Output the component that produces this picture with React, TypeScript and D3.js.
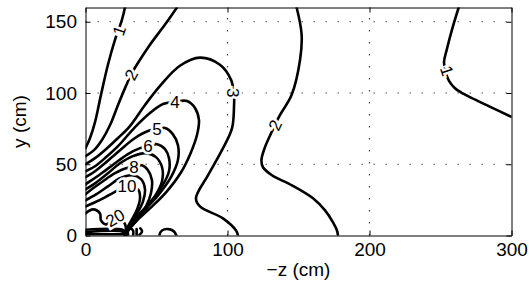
import React, { useEffect, useRef } from "react";
import * as d3 from "d3";

// axis ticks
const xTicks = [0, 100, 200, 300];
const yTicks = [0, 50, 100, 150];

// contour lines, [z, y] in cm
const level1Left = [[27.8, 160], [25.7, 151.5], [20.8, 137.4], [15.8, 119.8], [10.9, 98.7], [6.7, 79.6], [3.2, 68.4], [0, 61.3]];
const level1Right = [[262.8, 160], [258.1, 144.5], [254.4, 130.4], [252.5, 121.9], [253.5, 115], [256, 108.5], [260, 103.5], [266, 99.5], [274, 95.5], [285, 90.3], [300, 83.2]];
const level2Left = [[64.4, 160], [56, 148], [45.4, 133.9], [37, 121.2], [32, 112.8], [28.5, 105], [22.9, 91.6], [17.3, 77.5], [11.6, 67], [6, 59.9], [0, 55.7]];
const level2Mid = [[148.7, 160], [152.2, 141], [151.1, 123.3], [145.2, 98.7], [137, 84.6], [133.4, 77.5], [131.1, 72.6], [126.4, 62], [123.9, 52.9], [125, 47.9], [131.3, 42.3], [145.4, 35.2], [160.2, 26.1], [168.7, 17.6], [174.3, 9.2], [177.1, 3.5], [177.8, 0]];
const level3 = [[0, 50], [6.7, 54.3], [14.4, 60.6], [22.9, 68.4], [31.3, 76.8], [41.9, 91.6], [52.5, 105], [66.5, 119.1], [80.6, 124.8], [94.7, 119.8], [102.5, 109.2], [104.6, 98.7], [104.6, 90.9], [103.2, 75.4], [96.1, 59.9], [86.3, 42.3], [77.8, 26.1], [80.6, 20.4], [96.8, 12], [106, 3.5], [107.4, 0]];
const level4 = [[0, 45.1], [6.7, 48.6], [13.7, 54.3], [22.9, 62.7], [34.9, 76.1], [45.4, 86], [54.6, 92.3], [63, 93.7], [71.5, 94.4], [77.1, 89.5], [79.9, 81], [78.5, 70.5], [74.3, 58.5], [67.3, 44.4], [56.7, 30.3], [45.4, 19], [35.6, 9.9], [29.9, 3.5], [27.8, 0]];
const level5 = [[0, 40.9], [6.7, 45.1], [13.7, 50.7], [24.3, 59.9], [34.9, 68.4], [44, 73.3], [50.4, 74.7], [56, 75.4], [61.6, 71], [65.1, 63.4], [65.1, 52.9], [60.2, 40.9], [51.1, 28.2], [41.2, 17.6], [32.7, 8.5], [28.5, 2.8], [27.8, 0]];
const level6 = [[0, 35.9], [5.3, 39.5], [12.3, 44.4], [20.8, 50.7], [29.9, 57.1], [38.4, 61.3], [44, 62.7], [50.4, 64.1], [56, 60.6], [58.8, 54.3], [58.8, 45.1], [53.9, 34.5], [45.4, 23.3], [37, 14.1], [30.6, 5.6], [27.8, 0]];
const level7 = [[0, 32.4], [6.7, 36.6], [15.8, 43.7], [24.3, 50.7], [33.4, 55.7], [42.6, 57.8], [49.6, 55], [53.9, 47.9], [53.9, 38.1], [48.9, 27.5], [41.9, 17.6], [34.2, 8.5], [29.2, 2.8], [27.8, 0]];
const level8 = [[0, 28.9], [5.3, 33.1], [12.3, 38.1], [20.8, 43.7], [28.5, 47.2], [34.2, 47.9], [39.8, 49.3], [44, 45.8], [46.8, 38.8], [46.1, 29.6], [42.6, 20.4], [36.3, 11.3], [30.6, 4.2], [27.8, 0]];
const level9 = [[0, 24.7], [7.4, 28.9], [15.8, 34.5], [24.3, 40.2], [32.7, 42.3], [39.1, 39.5], [41.9, 32.4], [40.5, 24], [36.3, 15.5], [31.3, 7.8], [28.5, 2.1], [27.8, 0]];
const level10 = [[0, 20.4], [6.7, 23.3], [13.7, 26.8], [20.1, 30.3], [29.2, 34.5], [37, 32.4], [38.4, 26.1], [36.3, 18.3], [32.7, 11.3], [29.2, 4.9], [27.8, 0]];
const level20 = [[0, 15.5], [5.3, 18.3], [10.2, 15.5], [10.9, 10.6], [14.4, 7.8], [20.8, 11.3], [27.1, 9.2], [28.5, 4.2], [27.8, 0]];
const level30 = [[0, 4], [26, 4], [28.5, 2], [29, 0]];
const level40 = [[0, 2.3], [27, 2.3], [28, 0]];
const level50 = [[0, 0.8], [28, 0.8]];
const smallLoopA = [[30, 0], [30, 3.5], [31.5, 4.8], [33.5, 3.5], [33.5, 0]];
const smallLoopB = [[36, 0], [36, 4.5]];
const smallLoopC = [[38, 0.5], [39.6, 2.2], [39.6, 3.8], [38.6, 5]];
const smallBump = [[52, 0], [53, 2.6], [55.5, 4.3], [59.5, 4.3], [62.5, 2.6], [64, 0]];

const contourLines = [
  level1Left, level1Right, level2Left, level2Mid, level3, level4, level5, level6,
  level7, level8, level9, level10, level20, level30, level40, level50,
  smallLoopA, smallLoopB, smallLoopC, smallBump,
];

// inline contour labels: text, position (cm), rotation
const labelText = ["1", "1", "2", "2", "3", "4", "5", "6", "8", "10", "20"];
const labelPos = [[23.6, 143.8], [254.6, 115.6], [32, 112.8], [133.4, 77.5], [103.9, 100.1], [63, 93.7], [50.4, 74.7], [44, 62.7], [34.2, 47.9], [29.2, 34.5], [20.8, 12.5]];
const labelAngle = [-71, 71, -62, -65, 90, 0, 0, 0, 0, 0, -30];

const font = "'Liberation Sans', Arial, Helvetica, sans-serif";

const App = () => {
  const svgRef = useRef(null);

  useEffect(() => {
    const width = 529;
    const height = 300;
    const left = 85.5, right = 511.5, top = 7.5, bottom = 235.5;

    const svg = d3.select(svgRef.current).attr("width", width).attr("height", height);
    svg.selectAll("*").remove();

    const x = d3.scaleLinear().domain([0, 300]).range([left, right]);
    const y = d3.scaleLinear().domain([0, 160]).range([bottom, top]);

    svg.append("rect").attr("width", width).attr("height", height).attr("fill", "#fff");

    // dotted grid
    const grid = svg.append("g").attr("stroke", "#444").attr("stroke-width", 1.2).attr("stroke-dasharray", "1.4,10.6");
    grid.selectAll(".gx").data(xTicks.slice(1, -1)).enter().append("line")
      .attr("x1", (d) => x(d)).attr("x2", (d) => x(d)).attr("y1", bottom).attr("y2", top);
    grid.selectAll(".gy").data(yTicks.slice(1)).enter().append("line")
      .attr("y1", (d) => y(d)).attr("y2", (d) => y(d)).attr("x1", left).attr("x2", right);

    // contours
    svg.append("clipPath").attr("id", "plotClip").append("rect")
      .attr("x", left).attr("y", top).attr("width", right - left).attr("height", bottom - top);

    const line = d3.line()
      .x((d) => x(d[0]))
      .y((d) => y(d[1]))
      .curve(d3.curveCatmullRom.alpha(0.5));

    svg.append("g").attr("clip-path", "url(#plotClip)")
      .selectAll("path").data(contourLines).enter().append("path")
      .attr("d", (d) => line(d))
      .attr("fill", "none")
      .attr("stroke", "#000")
      .attr("stroke-width", 2.6)
      .attr("stroke-linejoin", "round")
      .attr("stroke-linecap", "round");

    svg.append("g").selectAll("text").data(labelText).enter().append("text")
      .attr("transform", (d, i) => `translate(${x(labelPos[i][0])},${y(labelPos[i][1])}) rotate(${labelAngle[i]})`)
      .attr("text-anchor", "middle")
      .attr("dy", "0.36em")
      .attr("font-family", font)
      .attr("font-size", 17)
      .attr("fill", "#000")
      .attr("stroke", "#fff")
      .attr("stroke-width", 5)
      .attr("paint-order", "stroke")
      .text((d) => d);

    // axes (box with inward ticks)
    const styleAxis = (g) => {
      g.attr("font-family", font).attr("font-size", 19);
      g.selectAll("path").attr("stroke", "#000");
      g.selectAll("line").attr("stroke", "#000");
      g.selectAll("text").attr("fill", "#000");
    };

    svg.append("g").attr("transform", `translate(0,${bottom})`)
      .call(d3.axisBottom(x).tickValues(xTicks).tickSize(-5).tickSizeOuter(0).tickPadding(7))
      .call(styleAxis);
    svg.append("g").attr("transform", `translate(0,${top})`)
      .call(d3.axisTop(x).tickValues(xTicks).tickSize(-5).tickSizeOuter(0).tickFormat(() => ""))
      .call(styleAxis);
    svg.append("g").attr("transform", `translate(${left},0)`)
      .call(d3.axisLeft(y).tickValues(yTicks).tickSize(-5).tickSizeOuter(0).tickPadding(8.5))
      .call(styleAxis);
    svg.append("g").attr("transform", `translate(${right},0)`)
      .call(d3.axisRight(y).tickValues(yTicks).tickSize(-5).tickSizeOuter(0).tickFormat(() => ""))
      .call(styleAxis);

    // axis titles
    svg.append("text")
      .attr("x", (left + right) / 2).attr("y", 276)
      .attr("text-anchor", "middle")
      .attr("font-family", font).attr("font-size", 19)
      .text("\u2212z (cm)");
    svg.append("text")
      .attr("transform", `translate(26,${(top + bottom) / 2}) rotate(-90)`)
      .attr("text-anchor", "middle")
      .attr("font-family", font).attr("font-size", 19)
      .text("y (cm)");
  }, []);

  return <svg ref={svgRef} style={{ position: "absolute", left: 0, top: 0 }}></svg>;
};

export default App;
